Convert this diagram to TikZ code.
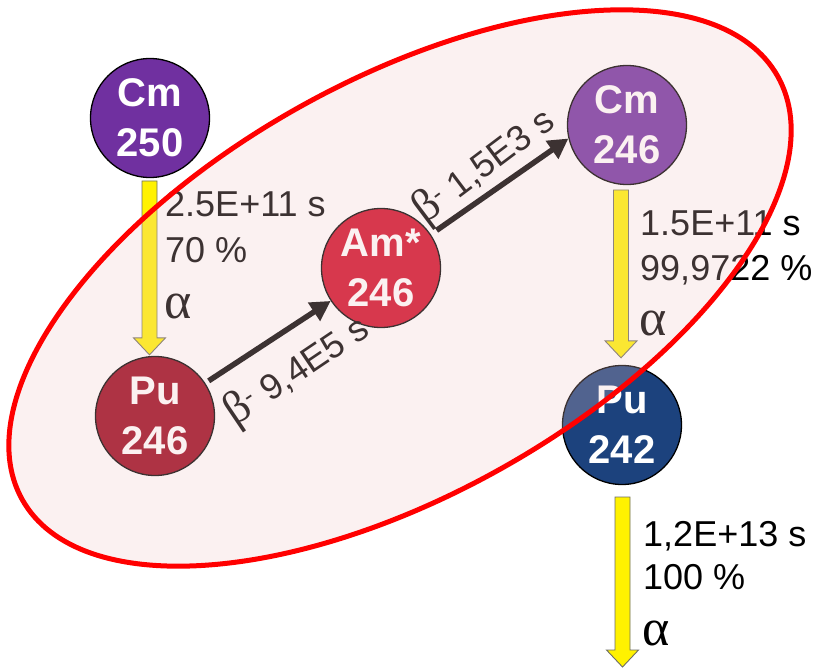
\documentclass[tikz,border=0pt]{standalone}
\usepackage{fontspec}
\setmainfont{Liberation Sans}
\newfontfamily\grk{Liberation Serif}
\usetikzlibrary{arrows.meta,calc}
\definecolor{cmpurple}{RGB}{112,48,160}
\definecolor{amred}{RGB}{207,8,36}
\definecolor{puwine}{RGB}{152,2,24}
\definecolor{publue}{RGB}{28,66,125}
\definecolor{zonepink}{RGB}{242,200,200}
\definecolor{arrowedge}{RGB}{110,110,100}
\tikzset{
  nuc/.style={circle, draw=black, line width=1.3pt, minimum size=119pt, inner sep=0pt,
    text=white, align=center, font=\fontsize{40}{50}\selectfont\bfseries},
  lbl/.style={anchor=base west, inner sep=0pt, font=\fontsize{36}{40}\selectfont, text=black},
  alp/.style={anchor=base west, inner sep=0pt, font=\fontsize{52}{54}\selectfont\grk, text=black},
  betalbl/.style={inner sep=0pt, font=\fontsize{36}{40}\selectfont, text=black},
  betaarrow/.style={draw=black, line width=5.5pt, -{Triangle[length=20pt,width=21pt]}},
  yarrow/.style={fill=yellow, draw=arrowedge, line width=0.9pt, line join=miter},
  zone/.style={draw=red, line width=5pt, fill=zonepink, fill opacity=0.25}
}
\newcommand\yellowarrow[2]{%
  \draw[yarrow] let \p1=(#1), \p2=(#2) in
    (\x1-7.5pt,\y1) -- (\x1+7.5pt,\y1) -- (\x1+7.5pt,\y2+17pt) -- (\x1+16pt,\y2+17pt)
    -- (\x1,\y2) -- (\x1-16pt,\y2+17pt) -- (\x1-7.5pt,\y2+17pt) -- cycle;}
\newcommand\betasym{{\fontsize{46}{46}\selectfont\grk β}\textsuperscript{-}}
\begin{document}
\begin{tikzpicture}[x=1pt,y=-1pt]
\useasboundingbox (0,0) rectangle (826,668);
\fill[white] (0,0) rectangle (826,668);

% nuclide nodes
\node[nuc, fill=cmpurple] (cm250) at (150,118) {Cm\\250};
\node[nuc, fill=puwine]   (pu246) at (155,416) {Pu\\246};
\node[nuc, fill=amred]    (am246) at (381,268) {Am*\\246};
\node[nuc, fill=cmpurple] (cm246) at (627,125) {Cm\\246};
\node[nuc, fill=publue]   (pu242) at (622,425) {Pu\\242};

% yellow alpha arrows
\coordinate (y1top) at (149.5,181);
\coordinate (y1tip) at ([yshift=1pt]pu246.north);
\coordinate (y2top) at (621,190);
\coordinate (y2tip) at ([yshift=7pt]pu242.north);
\coordinate (y3top) at (622.5,497);
\coordinate (y3tip) at (622.5,667);
\yellowarrow{y1top}{y1tip}
\yellowarrow{y2top}{y2tip}
\yellowarrow{y3top}{y3tip}

% alpha labels
\node[lbl] (l1a) at (165,217) {2.5E+11 s};
\node[lbl] (l1b) at (165,262) {70 \%};
\node[alp] (l1c) at (164,318) {α};
\node[lbl] (l2a) at (640,235) {1.5E+11 s};
\node[lbl] (l2b) at (640,280) {99,9722 \%};
\node[alp] (l2c) at (639,335) {α};
\node[lbl] (l3a) at (643,546) {1,2E+13 s};
\node[lbl] (l3b) at (643,589) {100 \%};
\node[alp] (l3c) at (642,645) {α};

% beta arrows
\draw[betaarrow, shorten <=4pt] (pu246) -- (am246);
\draw[betaarrow, shorten <=7pt] (am246.34) -- (cm246.193);
\node[betalbl, rotate=34] (b1) at (297,371) {\betasym\ 9,4E5 s};
\node[betalbl, rotate=37] (b2) at (484,166) {\betasym\ 1,5E3 s};

% highlighted zone
\begin{scope}[shift={(400,288)}, rotate=29.25]
  \draw[zone] (0,0) ellipse [x radius=433pt, y radius=207pt];
\end{scope}
\end{tikzpicture}
\end{document}
